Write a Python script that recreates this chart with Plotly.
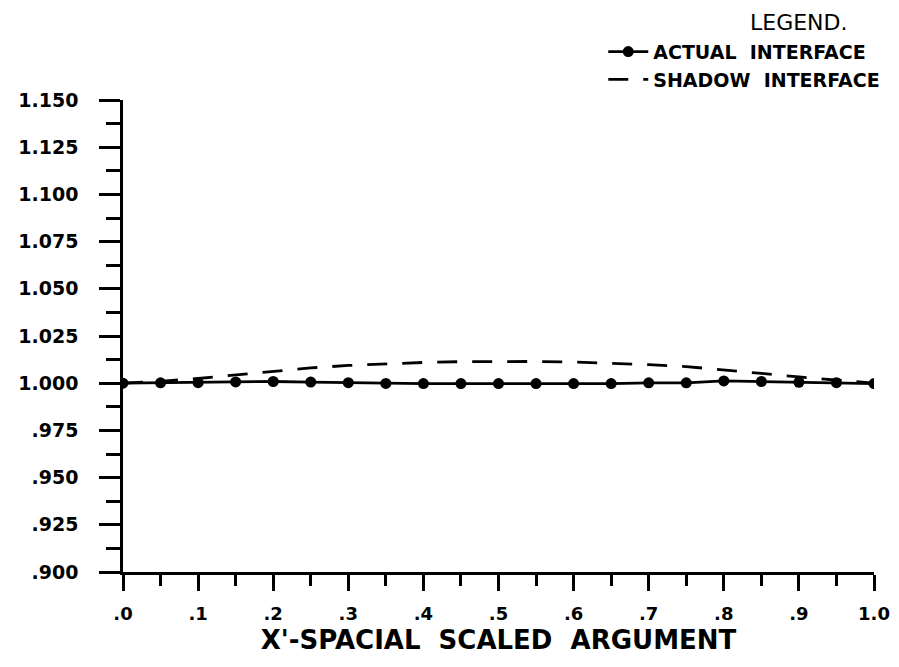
import plotly.graph_objects as go

# ---- data ----
x_vals = [0.00, 0.05, 0.10, 0.15, 0.20, 0.25, 0.30, 0.35, 0.40, 0.45, 0.50,
          0.55, 0.60, 0.65, 0.70, 0.75, 0.80, 0.85, 0.90, 0.95, 1.00]
actual_interface = [1.0000, 1.0002, 1.0003, 1.0007, 1.0009, 1.0006, 1.0003, 0.9999,
                    0.9998, 0.9998, 0.9998, 0.9998, 0.9998, 0.9998, 1.0002, 1.0002,
                    1.0012, 1.0009, 1.0005, 1.0003, 0.9998]
shadow_interface = [1.0000, 1.0010, 1.0025, 1.0044, 1.0062, 1.0081, 1.0094, 1.0102,
                    1.0110, 1.0114, 1.0116, 1.0115, 1.0112, 1.0106, 1.0098, 1.0088,
                    1.0072, 1.0052, 1.0033, 1.0015, 1.0000]

y_tick_vals = [0.900, 0.925, 0.950, 0.975, 1.000, 1.025, 1.050, 1.075, 1.100, 1.125, 1.150]
y_tick_text = [".900", ".925", ".950", ".975", "1.000", "1.025", "1.050", "1.075",
               "1.100", "1.125", "1.150"]
x_tick_vals = [0.0, 0.1, 0.2, 0.3, 0.4, 0.5, 0.6, 0.7, 0.8, 0.9, 1.0]
x_tick_text = [".0", ".1", ".2", ".3", ".4", ".5", ".6", ".7", ".8", ".9", "1.0"]

FONT = "DejaVu Sans"
INK = "#000000"

fig = go.Figure()
fig.add_trace(go.Scatter(
    x=x_vals, y=actual_interface, mode="lines+markers", name="ACTUAL  INTERFACE",
    line=dict(color=INK, width=2.8),
    marker=dict(color=INK, size=11, symbol="circle"),
))
fig.add_trace(go.Scatter(
    x=x_vals, y=shadow_interface, mode="lines", name="SHADOW  INTERFACE",
    line=dict(color=INK, width=2.8, dash="20px,15px"),
))

fig.add_annotation(
    text="LEGEND.", xref="paper", yref="paper", x=0.968, y=1.165,
    xanchor="right", yanchor="middle", showarrow=False,
    font=dict(family=FONT, size=22, color=INK, weight="normal"),
)

# page body adds an 8px margin, so the figure is sized to fit the 899x667 window
fig.update_layout(
    width=883, height=651,
    margin=dict(l=115, r=17, t=92, b=87, autoexpand=False),
    paper_bgcolor="white", plot_bgcolor="white",
    font=dict(family=FONT, color=INK, size=19, weight="bold"),
    showlegend=True,
    legend=dict(
        x=1.015, xanchor="right", xref="paper",
        y=0.962, yanchor="top", yref="container",
        bgcolor="rgba(0,0,0,0)",
        font=dict(family=FONT, size=19, color=INK, weight="bold"),
        tracegroupgap=0, itemwidth=40,
    ),
    xaxis=dict(
        range=[0, 1.0], showgrid=False, zeroline=False,
        showline=True, linecolor=INK, linewidth=2.5,
        tickmode="array", tickvals=x_tick_vals, ticktext=x_tick_text,
        ticks="outside", ticklen=16, tickwidth=2.5, tickcolor=INK,
        ticklabelstandoff=8,
        minor=dict(dtick=0.05, tick0=0, ticks="outside", ticklen=11, tickwidth=2.5, tickcolor=INK),
        tickfont=dict(family=FONT, size=18, color=INK, weight="bold"),
        title=dict(text="X'-SPACIAL  SCALED  ARGUMENT", standoff=8,
                   font=dict(family=FONT, size=26, color=INK, weight="bold")),
    ),
    yaxis=dict(
        range=[0.9, 1.15], showgrid=False, zeroline=False,
        showline=True, linecolor=INK, linewidth=2.5,
        tickmode="array", tickvals=y_tick_vals, ticktext=y_tick_text,
        ticks="outside", ticklen=21, tickwidth=2.5, tickcolor=INK,
        ticklabelstandoff=17,
        minor=dict(dtick=0.0125, tick0=0.9, ticks="outside", ticklen=14, tickwidth=2.5, tickcolor=INK),
        tickfont=dict(family=FONT, size=19, color=INK, weight="bold"),
    ),
)

fig.write_html("out.html")
